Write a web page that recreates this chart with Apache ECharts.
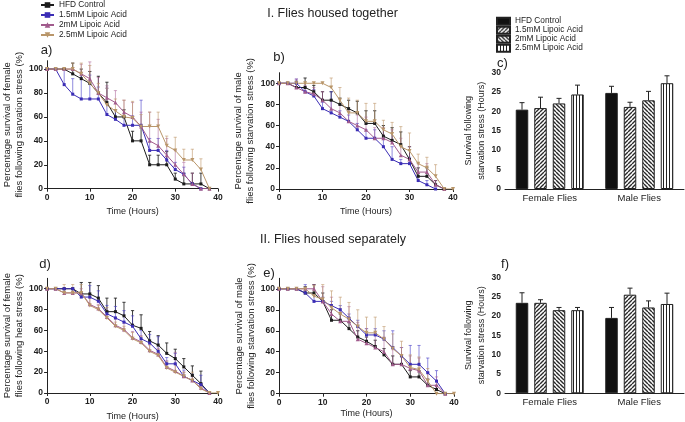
<!DOCTYPE html>
<html><head><meta charset="utf-8">
<script src="https://cdn.jsdelivr.net/npm/echarts@6/dist/echarts.min.js"></script>
<style>html,body{margin:0;padding:0;background:#fff}#c{width:685px;height:422px}</style>
</head><body><div id="c"></div>
<script>
// ---------- DATA ----------
const hours = [0,2,4,6,8,10,12,14,16,18,20,22,24,26,28,30,32,34,36,38,40];
const groupNames = ['HFD Control','1.5mM Lipoic Acid','2mM Lipoic Acid','2.5mM Lipoic Acid'];
const barCategories = ['Female Flies','Male Flies'];
const percentTicks = [0,20,40,60,80,100];
const hourTicks = [0,5,10,15,20,25,30];

// a) female, housed together, starvation
const aHFD    = [100,100,100,96,92,88,80,72,60,60,40,40,20,20,20,8,4,4,4,0,null];
const aHFDErr = [0,0,0,9,8,10,14,17,6,6,8,12,8,8,11,5,9,9,9,0,null];
const a15     = [100,100,87,79,75,75,75,62,58,53,53,53,32,32,24,16,12,4,0,null,null];
const a15Err  = [0,0,13,13,22,20,10,22,8,8,8,21,10,10,8,6,6,0,0,null,null];
const a2      = [100,100,100,100,96,92,80,76,72,64,60,52,40,36,28,20,12,4,0,0,null];
const a2Err   = [0,0,0,0,8,14,13,10,10,10,12,12,24,22,14,12,10,9,0,0,null];
const a25     = [100,100,100,100,96,88,80,70,65,60,59,52,52,52,36,32,24,24,16,0,null];
const a25Err  = [0,0,0,5,9,15,8,14,10,14,14,10,12,12,8,11,9,9,9,0,null];

// b) male, housed together, starvation
const bHFD    = [100,100,96,96,92,84,84,80,76,72,62,62,50,46,42,28,12,12,4,0,null];
const bHFDErr = [0,0,6,9,6,8,8,6,8,11,12,12,10,12,12,12,8,8,4,0,null];
const b15     = [100,100,100,92,88,76,72,68,64,56,48,48,40,28,24,24,8,4,0,null,null];
const b15Err  = [0,0,4,4,6,6,20,6,6,6,8,8,8,12,4,6,4,4,0,null,null];
const b2      = [100,100,96,92,90,84,76,72,64,60,56,48,48,44,32,28,16,16,4,0,null];
const b2Err   = [0,0,8,6,6,8,8,8,10,10,12,10,10,12,16,12,8,8,4,0,null];
const b25     = [100,100,100,100,100,100,96,84,72,72,64,64,56,52,40,36,24,20,12,0,0];
const b25Err  = [0,0,0,0,0,0,9,12,14,12,17,17,9,11,19,17,9,10,11,0,0];

// c) housed together, mean survival (hours)
const cHFD = [20.4,24.7], cHFDErr = [1.8,1.7];
const c15  = [20.8,21.1], c15Err  = [2.8,1.2];
const c2   = [22.0,22.8], c2Err   = [1.3,2.3];
const c25  = [24.3,27.2], c25Err  = [2.4,1.9];

// d) female, housed separately, heat
const dHFD    = [100,100,100,100,95,95,91,78,78,74,65,62,50,46,38,33,25,17,9,0,null];
const dHFDErr = [0,0,0,0,11,11,12,13,13,13,14,13,9,9,10,9,8,9,12,0,null];
const d15     = [100,100,100,100,92,92,88,76,72,68,64,52,48,40,28,28,16,12,8,0,null];
const d15Err  = [0,0,0,0,4,11,10,8,11,11,10,8,8,14,6,10,6,6,9,0,null];
const d2      = [100,100,96,96,96,85,81,73,65,61,53,49,41,37,25,21,16,12,5,0,null];
const d2Err   = [0,0,4,4,4,6,4,6,6,6,6,6,6,6,6,18,4,4,4,0,null];
const d25     = [100,100,96,96,96,84,80,72,64,60,52,48,40,36,24,20,16,12,4,0,0];
const d25Err  = [0,0,8,8,8,10,4,10,4,4,6,6,6,6,6,8,4,8,4,0,0];

// e) male, housed separately, starvation
const eHFD    = [100,100,100,96,96,88,70,70,62,54,50,45,37,28,28,16,16,8,4,0,null];
const eHFDErr = [0,0,0,6,8,8,10,6,6,6,4,6,6,8,8,6,6,6,4,0,null];
const e15     = [100,100,100,96,88,88,84,80,72,64,56,56,52,44,36,28,28,20,12,0,null];
const e15Err  = [0,0,0,8,6,4,4,4,4,6,6,6,8,16,8,18,18,14,10,0,null];
const e2      = [100,100,100,100,100,88,76,69,69,52,48,44,40,28,28,24,22,8,8,0,null];
const e2Err   = [0,0,0,0,4,14,16,12,14,16,14,14,14,14,16,12,12,12,8,0,null];
const e25     = [100,100,100,100,93,90,82,76,71,64,58,58,52,43,36,25,23,12,0,0,0];
const e25Err  = [0,0,0,0,10,14,16,16,16,16,15,15,12,14,14,12,12,12,0,0,0];

// f) housed separately, mean survival (hours)
const fHFD = [23.4,19.5], fHFDErr = [2.6,2.7];
const f15  = [23.4,25.5], f15Err  = [0.8,1.7];
const f2   = [21.5,22.2], f2Err   = [0.7,1.7];
const f25  = [21.5,23.1], f25Err  = [0.7,2.8];

// ---------- STYLE / LAYOUT ----------
const FONT = '"Liberation Sans", Arial, sans-serif';
const TXT = '#222';
const COLORS = ['#1c1c1c','#3b2db5','#a15b8d','#b9966a'];
const ERR_COLORS = ['rgba(30,30,30,0.85)','rgba(70,60,200,0.6)','rgba(170,95,150,0.55)','rgba(190,150,105,0.6)'];
const SYMBOLS = ['rect','rect','triangle','triangle'];
const SYMROT = [0,0,0,180];
const SYMSIZE = [3,3,4,4];

const grids = [
  {left:43,  top:60.7,  width:175, height:128},
  {left:279, top:72.7,  width:174, height:116.3},
  {left:505, top:72.3,  width:179, height:116.7},
  {left:43,  top:278.3, width:175, height:115.4},
  {left:279, top:278.3, width:175, height:115.4},
  {left:505, top:277.3, width:179, height:116}
];

function diagPattern(dir){
  const s = 4, c = document.createElement('canvas'); c.width = s; c.height = s;
  const g = c.getContext('2d');
  g.fillStyle = '#fff'; g.fillRect(0,0,s,s);
  g.strokeStyle = '#2a2a2a'; g.lineWidth = 1.4; g.beginPath();
  for (let k=-1;k<=1;k++){
    if (dir>0){ g.moveTo(k*s, s); g.lineTo(k*s+s, 0); }
    else { g.moveTo(k*s, 0); g.lineTo(k*s+s, s); }
  }
  g.stroke();
  return {image:c, repeat:'repeat'};
}
function vertPattern(){
  const c = document.createElement('canvas'); c.width = 3; c.height = 3;
  const g = c.getContext('2d');
  g.fillStyle = '#fff'; g.fillRect(0,0,3,3);
  g.fillStyle = '#222'; g.fillRect(0,0,1,3);
  return {image:c, repeat:'repeat'};
}
const BAR_FILLS = ['#111', diagPattern(1), diagPattern(-1), vertPattern()];

const axisBase = {
  axisLine:{lineStyle:{color:TXT,width:1}},
  axisTick:{length:3,lineStyle:{color:TXT,width:1}},
  axisLabel:{color:TXT,fontSize:8.5,fontWeight:'bold',fontFamily:FONT,margin:4},
  splitLine:{show:false},
  nameTextStyle:{color:TXT,fontFamily:FONT,fontSize:9}
};
function merge(a,b){ return echarts.util.merge(echarts.util.clone(a), b, true); }

const linePanels = [
  {g:0, yMax:107, name:'Percentage survival of female\nflies following starvation stress (%)', gap:18, vals:[aHFD,a15,a2,a25], errs:[aHFDErr,a15Err,a2Err,a25Err], xGap:18},
  {g:1, yMax:110, name:'Percentage survival of male\nflies following starvation stress (%)', gap:23, vals:[bHFD,b15,b2,b25], errs:[bHFDErr,b15Err,b2Err,b25Err], xGap:18},
  {g:3, yMax:110, name:'Percentage survival of female\nflies following heat stress (%)', gap:20, vals:[dHFD,d15,d2,d25], errs:[dHFDErr,d15Err,d2Err,d25Err], xGap:19},
  {g:4, yMax:110, name:'Percentage survival of male\nflies following starvation stress (%)', gap:21, vals:[eHFD,e15,e2,e25], errs:[eHFDErr,e15Err,e2Err,e25Err], xGap:15}
];
const barPanels = [
  {g:2, vals:[cHFD,c15,c2,c25], errs:[cHFDErr,c15Err,c2Err,c25Err]},
  {g:5, vals:[fHFD,f15,f2,f25], errs:[fHFDErr,f15Err,f2Err,f25Err]}
];

const xAxes = [], yAxes = [], series = [];
for (let i=0;i<6;i++){ xAxes.push(null); yAxes.push(null); }

linePanels.forEach(p => {
  xAxes[p.g] = merge(axisBase, {type:'value', gridIndex:p.g, min:0, max:40, interval:10,
    name:'Time (Hours)', nameLocation:'middle', nameGap:p.xGap});
  yAxes[p.g] = merge(axisBase, {type:'value', gridIndex:p.g, min:0, max:p.yMax,
    axisLabel:{customValues:percentTicks}, axisTick:{customValues:percentTicks},
    name:p.name, nameLocation:'middle', nameGap:p.gap,
    nameTextStyle:{fontSize:9.5,lineHeight:12}});
  p.vals.forEach((vals,k) => {
    const errData = [];
    hours.forEach((t,i) => { if (vals[i]!=null && p.errs[k][i]>0) errData.push([t, vals[i], vals[i]+p.errs[k][i]]); });
    series.push({type:'custom', xAxisIndex:p.g, yAxisIndex:p.g, silent:true, z:2,
      encode:{x:0,y:[1,2]}, data:errData,
      renderItem:(params,api)=>{
        const p0 = api.coord([api.value(0), api.value(1)]);
        const p1 = api.coord([api.value(0), api.value(2)]);
        const st = {stroke:ERR_COLORS[k], lineWidth:1};
        return {type:'group', children:[
          {type:'line', shape:{x1:p0[0],y1:p0[1],x2:p1[0],y2:p1[1]}, style:st},
          {type:'line', shape:{x1:p1[0]-1.6,y1:p1[1],x2:p1[0]+1.6,y2:p1[1]}, style:st}
        ]};
      }});
  });
  p.vals.forEach((vals,k) => {
    const d = [];
    hours.forEach((t,i) => { if (vals[i]!=null) d.push([t, vals[i]]); });
    series.push({type:'line', name:groupNames[k], xAxisIndex:p.g, yAxisIndex:p.g, z:3,
      data:d, symbol:SYMBOLS[k], symbolRotate:SYMROT[k], symbolSize:SYMSIZE[k],
      lineStyle:{color:COLORS[k], width:1}, itemStyle:{color:COLORS[k]}, animation:false});
  });
});

const BAR_W = 12.5, BAR_GAP_PX = 6;
barPanels.forEach(p => {
  xAxes[p.g] = merge(axisBase, {type:'category', gridIndex:p.g, data:barCategories,
    axisTick:{alignWithLabel:true}, axisLabel:{fontWeight:'normal', fontSize:9.5, margin:4}});
  yAxes[p.g] = merge(axisBase, {type:'value', gridIndex:p.g, min:0, max:30, interval:5,
    axisLabel:{customValues:hourTicks}, axisTick:{customValues:hourTicks},
    name:'Survival following\nstarvation stress (Hours)', nameLocation:'middle', nameGap:12,
    nameTextStyle:{fontSize:9,lineHeight:13}});
  p.vals.forEach((vals,k) => {
    series.push({type:'bar', name:'bar|'+groupNames[k], xAxisIndex:p.g, yAxisIndex:p.g,
      data:vals, barWidth:BAR_W, barGap:(BAR_GAP_PX/BAR_W*100)+'%',
      itemStyle:{color:BAR_FILLS[k], borderColor:'#222', borderWidth:1}, z:2});
  });
  p.vals.forEach((vals,k) => {
    const off = (k-1.5)*(BAR_W+BAR_GAP_PX);
    series.push({type:'custom', xAxisIndex:p.g, yAxisIndex:p.g, silent:true, z:3,
      encode:{x:0,y:[1,2]}, data: vals.map((v,i)=>[i, v, v+p.errs[k][i]]),
      renderItem:(params,api)=>{
        const p0 = api.coord([api.value(0), api.value(1)]);
        const p1 = api.coord([api.value(0), api.value(2)]);
        const x = p0[0]+off;
        const st = {stroke:'#222', lineWidth:1};
        return {type:'group', children:[
          {type:'line', shape:{x1:x,y1:p0[1],x2:x,y2:p1[1]}, style:st},
          {type:'line', shape:{x1:x-2.5,y1:p1[1],x2:x+2.5,y2:p1[1]}, style:st}
        ]};
      }});
  });
});

function txt(text, x, y, size){
  return {type:'text', x:x, y:y, silent:true,
    style:{text:text, fill:TXT, font:size+'px '+FONT, align:'center', verticalAlign:'middle',
      textAlign:'center', textVerticalAlign:'middle'}};
}

const option = {
  animation:false,
  backgroundColor:'#fff',
  textStyle:{fontFamily:FONT},
  grid: grids.map(g => Object.assign({containLabel:false}, g)),
  xAxis: xAxes,
  yAxis: yAxes,
  legend:[
    {orient:'vertical', left:40, top:0, padding:0, itemGap:0, itemWidth:13, itemHeight:7, itemTextGap:7,
     selectedMode:false, data:groupNames,
     textStyle:{fontSize:8.3, fontFamily:FONT, color:TXT, lineHeight:10}},
    {orient:'vertical', left:496, top:16.7, padding:0, itemGap:0, itemWidth:13, itemHeight:7, itemTextGap:3,
     selectedMode:false, icon:'rect', data:groupNames.map(n=>'bar|'+n),
     formatter:n=>n.split('|')[1],
     textStyle:{fontSize:8.3, fontFamily:FONT, color:TXT, lineHeight:8}}
  ],
  graphic:[
    txt('I. Flies housed together', 332.5, 14, 12.5),
    txt('II. Flies housed separately', 333, 240, 12.5),
    txt('a)', 46.5, 50, 13),
    txt('b)', 279, 57, 13),
    txt('c)', 502.5, 63, 13),
    txt('d)', 45, 264, 13),
    txt('e)', 269, 273, 13),
    txt('f)', 505, 264, 13)
  ],
  series: series
};
const chart = echarts.init(document.getElementById('c'));
chart.setOption(option);
</script>
</body></html>
